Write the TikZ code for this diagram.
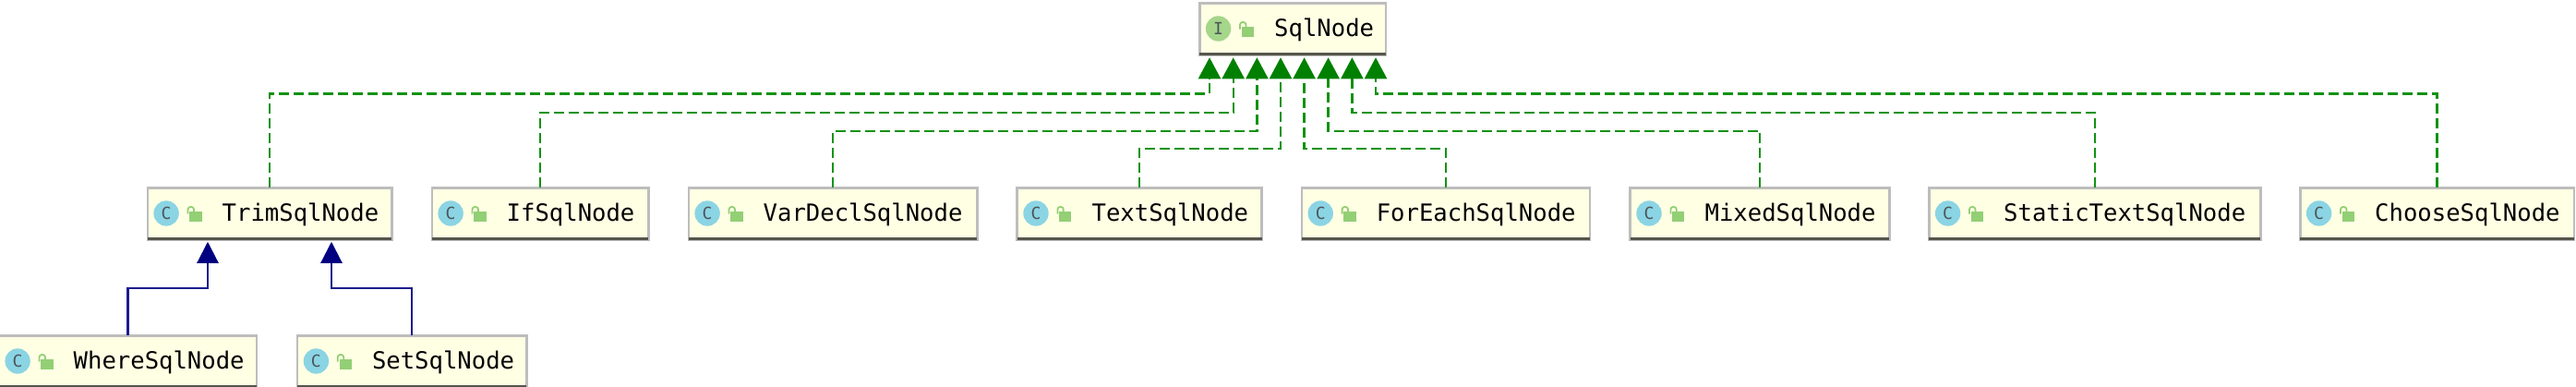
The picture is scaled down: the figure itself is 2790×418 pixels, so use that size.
\documentclass[tikz,border=0pt]{standalone}
\usepackage{fontspec}
\setmainfont{DejaVu Sans}
\newfontfamily\labelfont{DejaVu Sans Mono}
\usetikzlibrary{arrows.meta}
\definecolor{boxfill}{HTML}{FFFFE4}
\definecolor{boxedge}{HTML}{BDBDBD}
\definecolor{boxdark}{HTML}{55554C}
\definecolor{classblue}{HTML}{8BD4E4}
\definecolor{ifacegreen}{HTML}{A5D68A}
\definecolor{lockgreen}{HTML}{93CF75}
\definecolor{glyphgrey}{HTML}{4A5559}
\definecolor{implline}{HTML}{129212}
\definecolor{impltip}{HTML}{008000}
\definecolor{extline}{HTML}{1C1C8E}
\definecolor{exttip}{HTML}{000080}
\tikzset{
  umlbox/.style={draw=boxedge,fill=boxfill,line width=2.5pt,inner sep=0pt,outer sep=0pt,minimum height=56.5pt},
  umlicon/.style={circle,inner sep=0pt,outer sep=0pt,minimum size=27.4pt,text=glyphgrey,font=\labelfont\fontsize{18}{18}\selectfont},
  umltext/.style={anchor=base west,inner sep=0pt,outer sep=0pt,text=black,font=\labelfont\fontsize{25.6}{30}\selectfont},
  impl/.style={draw=implline,line width=2.3pt,dash pattern=on 11pt off 5pt,-{Triangle[length=23pt,width=24pt,fill=impltip,color=impltip]}},
  ext/.style={draw=extline,line width=2.2pt,-{Triangle[length=23pt,width=23pt,fill=exttip,color=exttip]}},
}
% name, left, right, top, text, circle colour, letter
\newcommand{\umlentry}[7]{%
  \begin{scope}[shift={(#2,#4)}]
    \pgfmathsetmacro{\boxw}{#3-#2}
    \pgfmathsetmacro{\boxwin}{\boxw-2.5}
    \node[umlbox,minimum width=\boxwin pt] (#1) at (\boxw/2,29.5) {};
    \draw[boxdark,line width=2.5pt] (1.25,56.3) -- (\boxw-1.25,56.3);
    \node[umlicon,fill=#6] (#1icon) at (21.6,29) {#7};
    \fill[lockgreen] (46.7,27.3) rectangle (60,37.5);
    \draw[lockgreen,line width=1.8pt] (45,29.5) -- (45,24.5) arc[start angle=180,end angle=360,x radius=3.2,y radius=2.6] -- (51.4,27);
    \node[umltext] (#1label) at (82.2,37.4) {#5};
  \end{scope}}
\begin{document}
\begin{tikzpicture}[x=1pt,y=-1pt]
\useasboundingbox (0,0) rectangle (2790,418);
\fill[white] (0,0) rectangle (2790,418);
\umlentry{sql}{1298}{1502}{2}{SqlNode}{ifacegreen}{I}
\umlentry{trim}{158.5}{425.5}{202}{TrimSqlNode}{classblue}{C}
\umlentry{ifn}{466.5}{703.7}{202}{IfSqlNode}{classblue}{C}
\umlentry{var}{744.5}{1059.6}{202}{VarDeclSqlNode}{classblue}{C}
\umlentry{txt}{1100.4}{1367.8}{202}{TextSqlNode}{classblue}{C}
\umlentry{each}{1408.6}{1723.4}{202}{ForEachSqlNode}{classblue}{C}
\umlentry{mix}{1764.4}{2047.5}{202}{MixedSqlNode}{classblue}{C}
\umlentry{stat}{2088}{2449.7}{202}{StaticTextSqlNode}{classblue}{C}
\umlentry{cho}{2490}{2789}{202}{ChooseSqlNode}{classblue}{C}
\umlentry{wher}{-2.5}{279.3}{362}{WhereSqlNode}{classblue}{C}
\umlentry{setn}{320.8}{571.6}{362}{SetSqlNode}{classblue}{C}
% routing levels
\coordinate (la) at (0,101.5);
\coordinate (lb) at (0,121.7);
\coordinate (lc) at (0,141.7);
\coordinate (ld) at (0,161);
\coordinate (le) at (0,311.7);
% arrow tips under SqlNode
\coordinate (t1) at ([xshift=-90pt,yshift=-2.5pt]sql.south);
\coordinate (t2) at ([xshift=-64.3pt,yshift=-2.5pt]sql.south);
\coordinate (t3) at ([xshift=-38.6pt,yshift=-2.5pt]sql.south);
\coordinate (t4) at ([xshift=-13pt,yshift=-2.5pt]sql.south);
\coordinate (t5) at ([xshift=12.6pt,yshift=-2.5pt]sql.south);
\coordinate (t6) at ([xshift=38.6pt,yshift=-2.5pt]sql.south);
\coordinate (t7) at ([xshift=64.4pt,yshift=-2.5pt]sql.south);
\coordinate (t8) at ([xshift=90pt,yshift=-2.5pt]sql.south);
\coordinate (u1) at ([xshift=-67pt,yshift=-2pt]trim.south);
\coordinate (u2) at ([xshift=67pt,yshift=-2pt]trim.south);
% realisations
\draw[impl] (trim.north) -- (trim.north |- la) -- (t1 |- la) -- (t1);
\draw[impl] (ifn.north) -- (ifn.north |- lb) -- (t2 |- lb) -- (t2);
\draw[impl] (var.north) -- (var.north |- lc) -- (t3 |- lc) -- (t3);
\draw[impl] (txt.north) -- (txt.north |- ld) -- (t4 |- ld) -- (t4);
\draw[impl] (each.north) -- (each.north |- ld) -- (t5 |- ld) -- (t5);
\draw[impl] (mix.north) -- (mix.north |- lc) -- (t6 |- lc) -- (t6);
\draw[impl] (stat.north) -- (stat.north |- lb) -- (t7 |- lb) -- (t7);
\draw[impl] (cho.north) -- (cho.north |- la) -- (t8 |- la) -- (t8);
% extensions
\draw[ext] (wher.north) -- (wher.north |- le) -- (u1 |- le) -- (u1);
\draw[ext] (setn.north) -- (setn.north |- le) -- (u2 |- le) -- (u2);
\end{tikzpicture}
\end{document}
